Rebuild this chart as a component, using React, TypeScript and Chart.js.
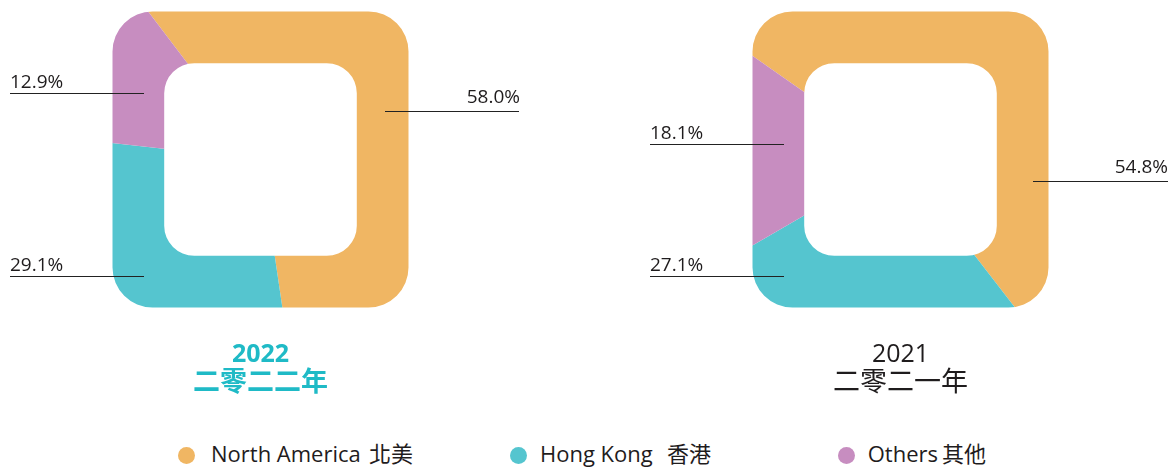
import React, { useEffect, useRef } from 'react';
import { Chart, registerables } from 'chart.js';

Chart.register(...registerables);

// ---- data ----
const categories = ['North America', 'Hong Kong', 'Others'];
const categoriesZh = ['北美', '香港', '其他'];
const values2022 = [58.0, 29.1, 12.9];
const values2021 = [54.8, 27.1, 18.1];
const sliceColors = ['#F0B663', '#55C5CF', '#C78DC0'];
const titles = ['2022', '2021'];
const titlesZh = ['二零二二年', '二零二一年'];

const FONT = '"Open Sans", "Noto Sans CJK TC", sans-serif';
const TEXT = '#1f1c1d';
const TEAL = '#1FBAC6';

function roundRectPath(ctx: CanvasRenderingContext2D, x: number, y: number, w: number, h: number, r: number) {
  ctx.moveTo(x + r, y);
  ctx.lineTo(x + w - r, y);
  ctx.arcTo(x + w, y, x + w, y + r, r);
  ctx.lineTo(x + w, y + h - r);
  ctx.arcTo(x + w, y + h, x + w - r, y + h, r);
  ctx.lineTo(x + r, y + h);
  ctx.arcTo(x, y + h, x, y + h - r, r);
  ctx.lineTo(x, y + r);
  ctx.arcTo(x, y, x + r, y, r);
  ctx.closePath();
}

const squareRing = {
  id: 'squareRing',
  beforeDatasetsDraw(chart: any, _args: any, opts: any) {
    const arc = chart.getDatasetMeta(0).data[0];
    if (!arc) return;
    const { x, y } = arc;
    const ctx = chart.ctx as CanvasRenderingContext2D;
    ctx.save();
    ctx.beginPath();
    roundRectPath(ctx, x - opts.outer, y - opts.outer, 2 * opts.outer, 2 * opts.outer, opts.outerRadius);
    roundRectPath(ctx, x - opts.inner, y - opts.inner, 2 * opts.inner, 2 * opts.inner, opts.innerRadius);
    ctx.clip('evenodd');
  },
  afterDatasetsDraw(chart: any) {
    chart.ctx.restore();
  },
};

const SIZE = 441;

function RingChart({ values, rotation, cx, cy }: { values: number[]; rotation: number; cx: number; cy: number }) {
  const ref = useRef<HTMLCanvasElement>(null);
  useEffect(() => {
    const chart = new Chart(ref.current as HTMLCanvasElement, {
      type: 'pie',
      data: {
        labels: categories,
        datasets: [
          {
            data: values,
            backgroundColor: sliceColors,
            borderWidth: 0,
            hoverOffset: 0,
          },
        ],
      },
      options: {
        animation: false,
        responsive: false,
        maintainAspectRatio: false,
        rotation,
        events: [],
        layout: { padding: 0 },
        plugins: {
          legend: { display: false },
          tooltip: { enabled: false },
          squareRing: { outer: 148, outerRadius: 40, inner: 96.3, innerRadius: 30 },
        } as any,
      },
      plugins: [squareRing as any],
    });
    return () => chart.destroy();
  }, []);
  return (
    <canvas
      ref={ref}
      width={SIZE}
      height={SIZE}
      style={{ position: 'absolute', left: cx - SIZE / 2, top: cy - SIZE / 2, width: SIZE, height: SIZE }}
    />
  );
}

function PctLabel({
  value,
  align,
  textX,
  lineX1,
  lineX2,
  lineY,
  gap,
}: {
  value: number;
  align: 'left' | 'right';
  textX: number;
  lineX1: number;
  lineX2: number;
  lineY: number;
  gap: number;
}) {
  const fs = 19;
  const baseline = lineY - gap;
  const top = baseline - fs * 0.888;
  const textStyle: React.CSSProperties = {
    position: 'absolute',
    top,
    fontFamily: FONT,
    fontSize: fs,
    lineHeight: `${fs}px`,
    color: TEXT,
    whiteSpace: 'nowrap',
  };
  if (align === 'left') textStyle.left = textX;
  else textStyle.right = 1172 - textX;
  return (
    <>
      <div style={textStyle}>{value.toFixed(1) + '%'}</div>
      <div
        style={{
          position: 'absolute',
          left: lineX1,
          top: Math.round(lineY - 0.5),
          width: lineX2 - lineX1,
          height: 1,
          background: '#222',
        }}
      />
    </>
  );
}

function Title({ cx, year, zh, bold, color }: { cx: number; year: string; zh: string; bold: boolean; color: string }) {
  const base: React.CSSProperties = {
    position: 'absolute',
    left: cx - 150,
    width: 300,
    textAlign: 'center',
    fontFamily: FONT,
    color,
    fontWeight: bold ? 700 : 400,
    whiteSpace: 'nowrap',
  };
  return (
    <>
      <div style={{ ...base, top: 361.7 - 25 * 0.888, fontSize: 25, lineHeight: '25px' }}>{year}</div>
      <div style={{ ...base, top: 391 - 27 * 0.888, fontSize: 27, lineHeight: '27px' }}>{zh}</div>
    </>
  );
}

const legendDotX = [186.7, 518.3, 846.7];
const legendTextX = [211, 540, 867.7];
const legendZhX = [369, 667, 942];

export default function App() {
  return (
    <div
      style={{
        position: 'absolute',
        left: 0,
        top: 0,
        width: 1172,
        height: 467,
        overflow: 'hidden',
        background: '#ffffff',
      }}
    >
      <RingChart values={values2022} rotation={-37.2} cx={260.5} cy={159.5} />
      <RingChart values={values2021} rotation={-55} cx={900.5} cy={159.5} />

      {/* 2022 labels */}
      <PctLabel value={values2022[0]} align="right" textX={520} lineX1={385} lineX2={519} lineY={111} gap={7} />
      <PctLabel value={values2022[2]} align="left" textX={10} lineX1={10} lineX2={144} lineY={93.5} gap={5} />
      <PctLabel value={values2022[1]} align="left" textX={10} lineX1={10} lineX2={144} lineY={276.5} gap={5} />

      {/* 2021 labels */}
      <PctLabel value={values2021[2]} align="left" textX={650} lineX1={650} lineX2={784} lineY={144.5} gap={5} />
      <PctLabel value={values2021[1]} align="left" textX={650} lineX1={650} lineX2={784} lineY={276.5} gap={5} />
      <PctLabel value={values2021[0]} align="right" textX={1168} lineX1={1033} lineX2={1168} lineY={181} gap={7} />

      <Title cx={260.5} year={titles[0]} zh={titlesZh[0]} bold={true} color={TEAL} />
      <Title cx={900.5} year={titles[1]} zh={titlesZh[1]} bold={false} color={TEXT} />

      {categories.map((c, i) => (
        <React.Fragment key={c}>
          <div
            style={{
              position: 'absolute',
              left: legendDotX[i] - 8.5,
              top: 455 - 8.5,
              width: 17,
              height: 17,
              borderRadius: '50%',
              background: sliceColors[i],
            }}
          />
          <div
            style={{
              position: 'absolute',
              left: legendTextX[i],
              top: 461.7 - 22 * 0.888,
              fontFamily: FONT,
              fontSize: 22,
              lineHeight: '22px',
              color: TEXT,
              whiteSpace: 'nowrap',
            }}
          >
            {c}
          </div>
          <div
            style={{
              position: 'absolute',
              left: legendZhX[i],
              top: 461.7 - 22 * 0.888,
              fontFamily: FONT,
              fontSize: 22,
              lineHeight: '22px',
              color: TEXT,
              whiteSpace: 'nowrap',
            }}
          >
            {categoriesZh[i]}
          </div>
        </React.Fragment>
      ))}
    </div>
  );
}
